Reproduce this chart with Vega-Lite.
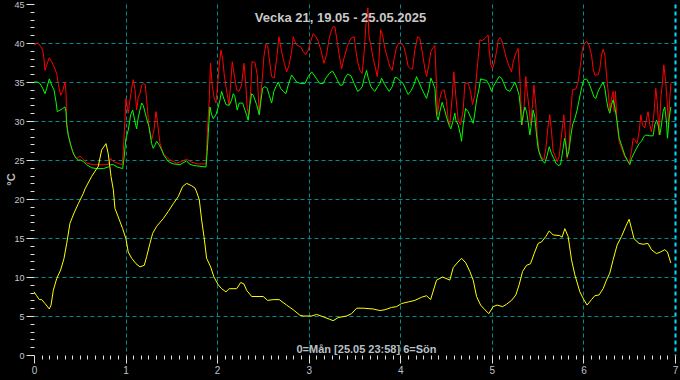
{
"$schema": "https://vega.github.io/schema/vega-lite/v6.json",
"width": 641, "height": 351,
"autosize": {"type": "none"},
"padding": {"left": 34, "top": 4, "right": 5, "bottom": 25},
"background": "#000000",
"config": {"view": {"stroke": null}, "axis": {"domain": false}},
"title": {"text": "Vecka 21, 19.05 - 25.05.2025", "anchor": "middle", "frame": "group", "dx": -14, "offset": -25, "fontSize": 13, "font": "Liberation Sans", "fontWeight": "bold", "color": "#c8c8c8"},
"datasets": {
"red": [{"d":0,"t":39.7},{"d":0.036,"t":40.0},{"d":0.066,"t":39.7},{"d":0.095,"t":39.1},{"d":0.109,"t":38.0},{"d":0.120,"t":36.5},{"d":0.139,"t":37.2},{"d":0.167,"t":38.1},{"d":0.193,"t":37.6},{"d":0.218,"t":37.0},{"d":0.248,"t":36.1},{"d":0.265,"t":34.8},{"d":0.291,"t":33.3},{"d":0.313,"t":33.8},{"d":0.338,"t":35.0},{"d":0.349,"t":33.8},{"d":0.357,"t":29.9},{"d":0.374,"t":28.2},{"d":0.393,"t":27.3},{"d":0.412,"t":26.5},{"d":0.429,"t":25.8},{"d":0.466,"t":25.2},{"d":0.502,"t":25.5},{"d":0.532,"t":25.2},{"d":0.575,"t":24.6},{"d":0.647,"t":24.4},{"d":0.757,"t":24.4},{"d":0.811,"t":24.4},{"d":0.837,"t":25.2},{"d":0.866,"t":24.8},{"d":0.909,"t":24.6},{"d":0.964,"t":24.4},{"d":0.975,"t":26.1},{"d":0.993,"t":30.1},{"d":1.004,"t":32.9},{"d":1.029,"t":31.0},{"d":1.048,"t":32.7},{"d":1.067,"t":34.2},{"d":1.084,"t":35.3},{"d":1.103,"t":34.0},{"d":1.121,"t":31.4},{"d":1.139,"t":33.1},{"d":1.157,"t":33.5},{"d":1.176,"t":34.6},{"d":1.193,"t":34.8},{"d":1.215,"t":34.7},{"d":1.230,"t":32.7},{"d":1.255,"t":29.3},{"d":1.285,"t":27.6},{"d":1.310,"t":28.8},{"d":1.332,"t":31.2},{"d":1.346,"t":30.1},{"d":1.376,"t":27.1},{"d":1.412,"t":25.8},{"d":1.485,"t":25.0},{"d":1.558,"t":24.6},{"d":1.612,"t":24.8},{"d":1.667,"t":25.1},{"d":1.722,"t":24.7},{"d":1.794,"t":24.5},{"d":1.878,"t":24.5},{"d":1.892,"t":28.4},{"d":1.905,"t":31.0},{"d":1.914,"t":32.7},{"d":1.927,"t":37.4},{"d":1.946,"t":34.6},{"d":1.968,"t":32.9},{"d":1.987,"t":32.3},{"d":2.005,"t":34.6},{"d":2.020,"t":36.8},{"d":2.041,"t":39.1},{"d":2.060,"t":38.0},{"d":2.078,"t":35.9},{"d":2.104,"t":33.8},{"d":2.129,"t":32.1},{"d":2.147,"t":34.6},{"d":2.165,"t":37.6},{"d":2.187,"t":35.9},{"d":2.213,"t":34.0},{"d":2.238,"t":33.8},{"d":2.267,"t":34.6},{"d":2.293,"t":37.4},{"d":2.311,"t":35.0},{"d":2.329,"t":31.6},{"d":2.347,"t":30.8},{"d":2.366,"t":33.8},{"d":2.380,"t":37.6},{"d":2.413,"t":37.5},{"d":2.438,"t":35.9},{"d":2.460,"t":30.8},{"d":2.478,"t":33.3},{"d":2.492,"t":35.3},{"d":2.511,"t":38.3},{"d":2.533,"t":39.9},{"d":2.551,"t":39.7},{"d":2.569,"t":38.0},{"d":2.595,"t":35.7},{"d":2.623,"t":35.5},{"d":2.650,"t":38.0},{"d":2.675,"t":40.8},{"d":2.704,"t":38.9},{"d":2.729,"t":37.6},{"d":2.759,"t":36.3},{"d":2.787,"t":37.2},{"d":2.813,"t":38.9},{"d":2.831,"t":40.8},{"d":2.849,"t":40.2},{"d":2.874,"t":39.7},{"d":2.912,"t":39.5},{"d":2.940,"t":38.9},{"d":2.966,"t":38.5},{"d":2.995,"t":39.1},{"d":3.021,"t":40.2},{"d":3.049,"t":41.2},{"d":3.079,"t":40.8},{"d":3.104,"t":40.2},{"d":3.133,"t":39.1},{"d":3.166,"t":37.4},{"d":3.195,"t":38.5},{"d":3.224,"t":40.6},{"d":3.250,"t":41.7},{"d":3.267,"t":42.1},{"d":3.286,"t":42.1},{"d":3.305,"t":40.6},{"d":3.333,"t":38.5},{"d":3.359,"t":36.7},{"d":3.384,"t":38.0},{"d":3.425,"t":39.7},{"d":3.461,"t":40.6},{"d":3.497,"t":40.8},{"d":3.512,"t":39.3},{"d":3.534,"t":37.6},{"d":3.559,"t":36.5},{"d":3.584,"t":36.1},{"d":3.606,"t":38.9},{"d":3.624,"t":42.3},{"d":3.646,"t":44.5},{"d":3.657,"t":41.0},{"d":3.679,"t":39.7},{"d":3.704,"t":38.0},{"d":3.730,"t":36.7},{"d":3.748,"t":35.7},{"d":3.766,"t":37.6},{"d":3.785,"t":41.7},{"d":3.807,"t":41.0},{"d":3.832,"t":39.3},{"d":3.861,"t":38.0},{"d":3.886,"t":37.0},{"d":3.912,"t":36.5},{"d":3.933,"t":38.0},{"d":3.960,"t":39.5},{"d":3.985,"t":40.0},{"d":4.014,"t":39.9},{"d":4.039,"t":39.5},{"d":4.061,"t":38.5},{"d":4.086,"t":37.0},{"d":4.112,"t":36.7},{"d":4.134,"t":36.7},{"d":4.159,"t":39.1},{"d":4.189,"t":40.8},{"d":4.214,"t":40.6},{"d":4.239,"t":38.9},{"d":4.269,"t":36.7},{"d":4.287,"t":35.7},{"d":4.312,"t":37.2},{"d":4.334,"t":38.9},{"d":4.359,"t":39.4},{"d":4.378,"t":39.7},{"d":4.396,"t":34.2},{"d":4.407,"t":30.8},{"d":4.425,"t":32.5},{"d":4.451,"t":33.8},{"d":4.479,"t":34.0},{"d":4.505,"t":32.5},{"d":4.523,"t":30.1},{"d":4.541,"t":29.5},{"d":4.567,"t":33.1},{"d":4.585,"t":36.3},{"d":4.607,"t":33.1},{"d":4.632,"t":30.1},{"d":4.658,"t":29.5},{"d":4.687,"t":31.4},{"d":4.705,"t":34.8},{"d":4.741,"t":34.9},{"d":4.767,"t":33.8},{"d":4.789,"t":32.1},{"d":4.814,"t":33.3},{"d":4.833,"t":35.9},{"d":4.850,"t":38.0},{"d":4.869,"t":40.4},{"d":4.894,"t":40.3},{"d":4.924,"t":40.6},{"d":4.942,"t":40.8},{"d":4.960,"t":41.0},{"d":4.971,"t":39.1},{"d":4.989,"t":37.2},{"d":5.008,"t":36.7},{"d":5.025,"t":37.4},{"d":5.051,"t":38.9},{"d":5.069,"t":40.4},{"d":5.087,"t":40.7},{"d":5.106,"t":40.4},{"d":5.131,"t":39.3},{"d":5.160,"t":38.0},{"d":5.189,"t":37.0},{"d":5.215,"t":36.3},{"d":5.233,"t":37.6},{"d":5.262,"t":38.7},{"d":5.287,"t":39.3},{"d":5.306,"t":35.5},{"d":5.317,"t":32.5},{"d":5.331,"t":29.5},{"d":5.349,"t":31.2},{"d":5.371,"t":35.7},{"d":5.385,"t":33.8},{"d":5.407,"t":31.6},{"d":5.422,"t":29.5},{"d":5.444,"t":32.1},{"d":5.459,"t":34.6},{"d":5.480,"t":32.1},{"d":5.495,"t":28.2},{"d":5.516,"t":26.1},{"d":5.542,"t":25.4},{"d":5.568,"t":25.0},{"d":5.590,"t":26.5},{"d":5.615,"t":29.5},{"d":5.633,"t":30.8},{"d":5.652,"t":28.6},{"d":5.669,"t":26.1},{"d":5.695,"t":25.4},{"d":5.713,"t":24.8},{"d":5.735,"t":25.4},{"d":5.761,"t":28.2},{"d":5.786,"t":30.8},{"d":5.808,"t":27.4},{"d":5.822,"t":25.2},{"d":5.844,"t":26.9},{"d":5.862,"t":31.2},{"d":5.881,"t":34.0},{"d":5.917,"t":34.1},{"d":5.942,"t":35.0},{"d":5.968,"t":37.2},{"d":5.990,"t":39.3},{"d":6.015,"t":40.0},{"d":6.040,"t":40.2},{"d":6.062,"t":39.7},{"d":6.088,"t":38.5},{"d":6.106,"t":36.7},{"d":6.124,"t":35.9},{"d":6.160,"t":35.9},{"d":6.179,"t":36.7},{"d":6.198,"t":38.5},{"d":6.215,"t":39.2},{"d":6.234,"t":38.5},{"d":6.252,"t":35.9},{"d":6.270,"t":33.8},{"d":6.288,"t":31.2},{"d":6.307,"t":32.9},{"d":6.324,"t":33.8},{"d":6.335,"t":31.2},{"d":6.350,"t":33.8},{"d":6.368,"t":29.5},{"d":6.390,"t":27.4},{"d":6.416,"t":26.5},{"d":6.452,"t":25.4},{"d":6.499,"t":24.6},{"d":6.525,"t":26.1},{"d":6.543,"t":27.8},{"d":6.561,"t":27.6},{"d":6.586,"t":27.1},{"d":6.608,"t":28.6},{"d":6.627,"t":30.8},{"d":6.645,"t":29.5},{"d":6.670,"t":29.1},{"d":6.689,"t":30.3},{"d":6.706,"t":31.2},{"d":6.725,"t":29.5},{"d":6.743,"t":28.6},{"d":6.769,"t":30.8},{"d":6.790,"t":34.2},{"d":6.805,"t":32.5},{"d":6.826,"t":28.2},{"d":6.845,"t":32.9},{"d":6.864,"t":35.0},{"d":6.878,"t":37.2},{"d":6.900,"t":34.8},{"d":6.914,"t":32.5},{"d":6.929,"t":29.5},{"d":6.943,"t":32.9},{"d":6.957,"t":35.0}],
"green": [{"d":0,"t":35},{"d":0.036,"t":35},{"d":0.066,"t":34.8},{"d":0.095,"t":34.2},{"d":0.120,"t":33.5},{"d":0.139,"t":34.2},{"d":0.167,"t":35.4},{"d":0.193,"t":34.6},{"d":0.218,"t":34},{"d":0.240,"t":32.5},{"d":0.254,"t":31.2},{"d":0.284,"t":31.4},{"d":0.313,"t":31.6},{"d":0.338,"t":31.8},{"d":0.349,"t":31.2},{"d":0.357,"t":29.5},{"d":0.374,"t":28.2},{"d":0.401,"t":26.9},{"d":0.422,"t":26.1},{"d":0.448,"t":25.4},{"d":0.484,"t":25},{"d":0.510,"t":25},{"d":0.538,"t":24.8},{"d":0.575,"t":24.4},{"d":0.630,"t":24},{"d":0.684,"t":23.9},{"d":0.757,"t":23.9},{"d":0.811,"t":24.1},{"d":0.837,"t":24.4},{"d":0.866,"t":24.4},{"d":0.909,"t":24.1},{"d":0.968,"t":23.9},{"d":0.983,"t":25.2},{"d":1.004,"t":27.8},{"d":1.029,"t":28.8},{"d":1.056,"t":30.8},{"d":1.078,"t":31.4},{"d":1.103,"t":29.9},{"d":1.121,"t":29},{"d":1.139,"t":30.5},{"d":1.157,"t":31.4},{"d":1.176,"t":32.3},{"d":1.193,"t":32},{"d":1.215,"t":31},{"d":1.230,"t":30.3},{"d":1.255,"t":29.3},{"d":1.285,"t":27.1},{"d":1.302,"t":26.5},{"d":1.321,"t":26.9},{"d":1.340,"t":27.4},{"d":1.368,"t":26.9},{"d":1.394,"t":26.3},{"d":1.419,"t":25.6},{"d":1.466,"t":24.8},{"d":1.521,"t":24.5},{"d":1.594,"t":24.4},{"d":1.638,"t":24.7},{"d":1.667,"t":24.9},{"d":1.695,"t":24.5},{"d":1.739,"t":24.3},{"d":1.812,"t":24.2},{"d":1.878,"t":24.1},{"d":1.892,"t":26.1},{"d":1.903,"t":28.4},{"d":1.921,"t":31.8},{"d":1.940,"t":30.8},{"d":1.957,"t":30.3},{"d":1.987,"t":30.8},{"d":2.012,"t":31.8},{"d":2.031,"t":32.7},{"d":2.049,"t":33.8},{"d":2.067,"t":33.1},{"d":2.096,"t":32.1},{"d":2.132,"t":32},{"d":2.158,"t":32.7},{"d":2.176,"t":33.5},{"d":2.194,"t":33.1},{"d":2.219,"t":31.4},{"d":2.241,"t":32.3},{"d":2.278,"t":32.3},{"d":2.303,"t":31.4},{"d":2.322,"t":30.8},{"d":2.339,"t":30.1},{"d":2.358,"t":32.1},{"d":2.377,"t":33.5},{"d":2.394,"t":33.3},{"d":2.413,"t":32.7},{"d":2.431,"t":32.1},{"d":2.460,"t":30.8},{"d":2.475,"t":32.3},{"d":2.497,"t":34.2},{"d":2.522,"t":34.4},{"d":2.547,"t":34.2},{"d":2.569,"t":33.3},{"d":2.595,"t":32.3},{"d":2.620,"t":33.8},{"d":2.642,"t":34.4},{"d":2.667,"t":35},{"d":2.693,"t":34.2},{"d":2.722,"t":33.8},{"d":2.751,"t":33.5},{"d":2.776,"t":34.6},{"d":2.813,"t":35.9},{"d":2.838,"t":35.5},{"d":2.868,"t":35},{"d":2.912,"t":34.8},{"d":2.959,"t":34.8},{"d":2.995,"t":35.7},{"d":3.032,"t":36.3},{"d":3.057,"t":35.9},{"d":3.086,"t":35.4},{"d":3.122,"t":34.8},{"d":3.158,"t":34.8},{"d":3.188,"t":35.5},{"d":3.224,"t":36.1},{"d":3.261,"t":36.4},{"d":3.286,"t":35.9},{"d":3.311,"t":35.3},{"d":3.341,"t":34.6},{"d":3.370,"t":34.6},{"d":3.395,"t":35.5},{"d":3.425,"t":36},{"d":3.461,"t":35.8},{"d":3.497,"t":34.8},{"d":3.534,"t":33.8},{"d":3.559,"t":34},{"d":3.584,"t":34.4},{"d":3.606,"t":35.5},{"d":3.632,"t":36.5},{"d":3.650,"t":35.5},{"d":3.679,"t":34.4},{"d":3.704,"t":34},{"d":3.723,"t":33.8},{"d":3.752,"t":34.4},{"d":3.777,"t":34.8},{"d":3.796,"t":35.5},{"d":3.824,"t":34.8},{"d":3.850,"t":34.3},{"d":3.879,"t":33.8},{"d":3.912,"t":34.4},{"d":3.941,"t":35.6},{"d":3.971,"t":35.5},{"d":4.003,"t":35.1},{"d":4.032,"t":34.8},{"d":4.061,"t":34},{"d":4.086,"t":33.4},{"d":4.112,"t":33.8},{"d":4.141,"t":34.4},{"d":4.159,"t":35},{"d":4.178,"t":35.7},{"d":4.203,"t":35},{"d":4.232,"t":34.2},{"d":4.261,"t":33.5},{"d":4.287,"t":32.9},{"d":4.312,"t":34},{"d":4.334,"t":35.5},{"d":4.359,"t":34.8},{"d":4.378,"t":34.2},{"d":4.396,"t":30.8},{"d":4.414,"t":30.1},{"d":4.432,"t":31.2},{"d":4.457,"t":32.4},{"d":4.479,"t":31.6},{"d":4.505,"t":30.5},{"d":4.531,"t":29.5},{"d":4.552,"t":29},{"d":4.578,"t":30.1},{"d":4.596,"t":31},{"d":4.607,"t":30.1},{"d":4.632,"t":29.5},{"d":4.658,"t":28.2},{"d":4.669,"t":27.4},{"d":4.687,"t":29.5},{"d":4.713,"t":31.6},{"d":4.741,"t":31.2},{"d":4.767,"t":30.5},{"d":4.796,"t":29.7},{"d":4.814,"t":31},{"d":4.833,"t":32.7},{"d":4.861,"t":34.2},{"d":4.877,"t":35.4},{"d":4.905,"t":35.3},{"d":4.942,"t":35.2},{"d":4.971,"t":34.6},{"d":4.997,"t":33.8},{"d":5.014,"t":34.4},{"d":5.044,"t":35},{"d":5.080,"t":35.7},{"d":5.106,"t":35.5},{"d":5.131,"t":34.8},{"d":5.160,"t":34},{"d":5.197,"t":33.8},{"d":5.226,"t":34.4},{"d":5.251,"t":35},{"d":5.276,"t":34.2},{"d":5.298,"t":33.3},{"d":5.313,"t":31.6},{"d":5.324,"t":29.5},{"d":5.342,"t":30.8},{"d":5.360,"t":31.8},{"d":5.379,"t":31.2},{"d":5.396,"t":29.9},{"d":5.415,"t":28.2},{"d":5.433,"t":29.7},{"d":5.451,"t":31.4},{"d":5.469,"t":30.5},{"d":5.488,"t":28.2},{"d":5.505,"t":26.5},{"d":5.532,"t":25.4},{"d":5.560,"t":24.8},{"d":5.579,"t":24.6},{"d":5.604,"t":25.6},{"d":5.626,"t":26.7},{"d":5.652,"t":25.8},{"d":5.677,"t":25.2},{"d":5.699,"t":24.6},{"d":5.724,"t":24.3},{"d":5.750,"t":24.4},{"d":5.761,"t":25.2},{"d":5.778,"t":26.5},{"d":5.794,"t":27.8},{"d":5.808,"t":26.9},{"d":5.822,"t":25.4},{"d":5.841,"t":26.1},{"d":5.859,"t":27.8},{"d":5.881,"t":29.5},{"d":5.906,"t":30.3},{"d":5.931,"t":31.4},{"d":5.953,"t":32.7},{"d":5.979,"t":34.2},{"d":6.004,"t":35.3},{"d":6.034,"t":35.4},{"d":6.062,"t":34.8},{"d":6.088,"t":34},{"d":6.114,"t":33.1},{"d":6.135,"t":32.9},{"d":6.160,"t":33.8},{"d":6.187,"t":34.4},{"d":6.215,"t":35},{"d":6.234,"t":34.2},{"d":6.252,"t":32.7},{"d":6.270,"t":31.6},{"d":6.288,"t":31},{"d":6.307,"t":32.1},{"d":6.324,"t":32.7},{"d":6.343,"t":31.8},{"d":6.368,"t":29.9},{"d":6.390,"t":27.8},{"d":6.416,"t":26.9},{"d":6.452,"t":25.6},{"d":6.488,"t":24.8},{"d":6.507,"t":24.4},{"d":6.525,"t":25.2},{"d":6.550,"t":25.8},{"d":6.580,"t":26.5},{"d":6.608,"t":27.1},{"d":6.634,"t":27.4},{"d":6.659,"t":28},{"d":6.681,"t":28.2},{"d":6.725,"t":28.1},{"d":6.761,"t":28.1},{"d":6.779,"t":29.5},{"d":6.798,"t":30.1},{"d":6.815,"t":29.5},{"d":6.834,"t":28.2},{"d":6.852,"t":29.5},{"d":6.870,"t":31.2},{"d":6.888,"t":31.8},{"d":6.907,"t":29.9},{"d":6.918,"t":27.8},{"d":6.936,"t":30.3},{"d":6.954,"t":31.8}],
"yellow": [{"d":0,"t":8.1},{"d":0.029,"t":7.6},{"d":0.058,"t":7.1},{"d":0.084,"t":7.1},{"d":0.120,"t":6.6},{"d":0.167,"t":5.9},{"d":0.186,"t":6.4},{"d":0.211,"t":8.3},{"d":0.248,"t":9.8},{"d":0.291,"t":10.9},{"d":0.328,"t":12.4},{"d":0.357,"t":14.3},{"d":0.393,"t":16.9},{"d":0.437,"t":18.2},{"d":0.484,"t":19.4},{"d":0.538,"t":20.7},{"d":0.557,"t":21.3},{"d":0.630,"t":22.9},{"d":0.702,"t":24.2},{"d":0.739,"t":26.3},{"d":0.786,"t":27.1},{"d":0.811,"t":25.8},{"d":0.841,"t":22.9},{"d":0.866,"t":21.2},{"d":0.884,"t":18.8},{"d":0.920,"t":17.7},{"d":0.968,"t":16.2},{"d":1.004,"t":14.9},{"d":1.029,"t":13.2},{"d":1.067,"t":12.4},{"d":1.114,"t":11.7},{"d":1.157,"t":11.3},{"d":1.204,"t":11.5},{"d":1.230,"t":12.6},{"d":1.266,"t":14.3},{"d":1.296,"t":15.6},{"d":1.340,"t":16.5},{"d":1.412,"t":17.5},{"d":1.466,"t":18.4},{"d":1.521,"t":19.4},{"d":1.575,"t":20.3},{"d":1.623,"t":21.6},{"d":1.667,"t":22},{"d":1.722,"t":21.7},{"d":1.758,"t":21.4},{"d":1.776,"t":20.9},{"d":1.805,"t":19.9},{"d":1.831,"t":17.3},{"d":1.856,"t":15.2},{"d":1.885,"t":12.4},{"d":1.929,"t":11.3},{"d":1.965,"t":10},{"d":2.012,"t":9},{"d":2.049,"t":8.5},{"d":2.096,"t":8.1},{"d":2.132,"t":8.5},{"d":2.213,"t":8.5},{"d":2.257,"t":9.3},{"d":2.293,"t":9.1},{"d":2.322,"t":8.3},{"d":2.377,"t":7.5},{"d":2.503,"t":7.5},{"d":2.551,"t":7},{"d":2.612,"t":7.1},{"d":2.678,"t":7.1},{"d":2.759,"t":6.4},{"d":2.831,"t":5.8},{"d":2.904,"t":5.1},{"d":2.940,"t":5},{"d":3.032,"t":5},{"d":3.086,"t":5.2},{"d":3.158,"t":4.9},{"d":3.224,"t":4.6},{"d":3.267,"t":4.4},{"d":3.322,"t":4.8},{"d":3.414,"t":5},{"d":3.468,"t":5.3},{"d":3.523,"t":6},{"d":3.595,"t":6},{"d":3.704,"t":5.9},{"d":3.777,"t":5.7},{"d":3.832,"t":5.8},{"d":3.905,"t":6.1},{"d":3.960,"t":6.2},{"d":4.014,"t":6.6},{"d":4.086,"t":6.8},{"d":4.159,"t":7},{"d":4.232,"t":7.4},{"d":4.287,"t":7.6},{"d":4.331,"t":7.1},{"d":4.396,"t":9.6},{"d":4.462,"t":10},{"d":4.541,"t":9.6},{"d":4.578,"t":11.2},{"d":4.621,"t":11.8},{"d":4.669,"t":12.4},{"d":4.716,"t":11.8},{"d":4.760,"t":10.7},{"d":4.796,"t":9.6},{"d":4.833,"t":7.5},{"d":4.877,"t":6.4},{"d":4.924,"t":5.8},{"d":4.967,"t":5.3},{"d":5.014,"t":6.2},{"d":5.058,"t":6.4},{"d":5.117,"t":6.2},{"d":5.160,"t":6.5},{"d":5.215,"t":7},{"d":5.262,"t":7.7},{"d":5.298,"t":9},{"d":5.335,"t":10.7},{"d":5.379,"t":11.5},{"d":5.422,"t":11.7},{"d":5.462,"t":13},{"d":5.505,"t":14.3},{"d":5.542,"t":14.5},{"d":5.590,"t":15.2},{"d":5.626,"t":15.9},{"d":5.669,"t":15.4},{"d":5.742,"t":15.3},{"d":5.767,"t":15.1},{"d":5.797,"t":16.2},{"d":5.833,"t":15.2},{"d":5.870,"t":12.2},{"d":5.906,"t":10.3},{"d":5.961,"t":8.1},{"d":6.004,"t":7.1},{"d":6.040,"t":6.4},{"d":6.088,"t":7.1},{"d":6.124,"t":7.6},{"d":6.171,"t":7.7},{"d":6.215,"t":8.5},{"d":6.252,"t":9.6},{"d":6.288,"t":10.5},{"d":6.324,"t":12.2},{"d":6.368,"t":14.1},{"d":6.416,"t":15.2},{"d":6.463,"t":16.5},{"d":6.499,"t":17.4},{"d":6.525,"t":16.2},{"d":6.553,"t":14.9},{"d":6.608,"t":14.3},{"d":6.652,"t":14.2},{"d":6.706,"t":14.3},{"d":6.743,"t":13.5},{"d":6.798,"t":13},{"d":6.841,"t":13.2},{"d":6.888,"t":13.5},{"d":6.918,"t":13.2},{"d":6.954,"t":11.8}]
},
"encoding": {
  "x": {"field": "d", "type": "quantitative", "scale": {"domain": [0, 7], "nice": false, "zero": false},
    "axis": {
      "values": [0,0.0833,0.1667,0.25,0.3333,0.4167,0.5,0.5833,0.6667,0.75,0.8333,0.9167,1,1.0833,1.1667,1.25,1.3333,1.4167,1.5,1.5833,1.6667,1.75,1.8333,1.9167,2,2.0833,2.1667,2.25,2.3333,2.4167,2.5,2.5833,2.6667,2.75,2.8333,2.9167,3,3.0833,3.1667,3.25,3.3333,3.4167,3.5,3.5833,3.6667,3.75,3.8333,3.9167,4,4.0833,4.1667,4.25,4.3333,4.4167,4.5,4.5833,4.6667,4.75,4.8333,4.9167,5,5.0833,5.1667,5.25,5.3333,5.4167,5.5,5.5833,5.6667,5.75,5.8333,5.9167,6,6.0833,6.1667,6.25,6.3333,6.4167,6.5,6.5833,6.6667,6.75,6.8333,6.9167,7],
      "labelExpr": "datum.value % 1 === 0 ? format(datum.value, 'd') : ''",
      "labelOverlap": false, "labelBound": false, "labelFlush": false,
      "labelFont": "Liberation Sans", "labelFontSize": 10, "labelColor": "#b8c4d0", "labelPadding": 2,
      "tickColor": "#e0e0e0",
      "tickSize": {"condition": {"test": "datum.value % 1 === 0", "value": 8}, "value": 4},
      "grid": true,
      "gridColor": {"condition": {"test": "datum.value === 7", "value": "#00e0ff"}, "value": "#008c8c"},
      "gridWidth": {"condition": {"test": "datum.value === 7", "value": 2}, "value": 1},
      "gridOpacity": {"condition": {"test": "datum.value % 1 === 0 && datum.value > 0", "value": 1}, "value": 0},
      "gridDash": [4, 3],
      "title": "0=Mån [25.05 23:58] 6=Sön", "titleX": 332, "titleY": -6, "titleBaseline": "middle", "titleAlign": "center",
      "titleFont": "Liberation Sans", "titleFontSize": 11, "titleFontWeight": "bold", "titleColor": "#b8c0c8"
    }},
  "y": {"field": "t", "type": "quantitative", "scale": {"domain": [0, 45], "nice": false},
    "axis": {
      "values": [0,1,2,3,4,5,6,7,8,9,10,11,12,13,14,15,16,17,18,19,20,21,22,23,24,25,26,27,28,29,30,31,32,33,34,35,36,37,38,39,40,41,42,43,44,45],
      "labelExpr": "datum.value % 5 === 0 ? format(datum.value, 'd') : ''",
      "labelOverlap": false, "labelBound": false, "labelFlush": false,
      "labelFont": "Liberation Sans", "labelFontSize": 9, "labelColor": "#c0c8d0", "labelPadding": 2,
      "tickColor": "#e0e0e0",
      "tickSize": {"condition": {"test": "datum.value % 5 === 0", "value": 8}, "value": 4},
      "grid": true, "gridColor": "#008c8c", "gridDash": [4, 3],
      "gridOpacity": {"condition": {"test": "datum.value % 5 === 0 && datum.value > 0 && datum.value < 45", "value": 1}, "value": 0},
      "title": "°C", "titleX": -23, "titleY": 175, "titleAngle": -90, "titleBaseline": "middle", "titleAlign": "center",
      "titleFont": "Liberation Sans", "titleFontSize": 11, "titleFontWeight": "bold", "titleColor": "#c0c0c0"
    }}
},
"layer": [
  {"data": {"name": "red"}, "mark": {"type": "line", "color": "#ff0000", "strokeWidth": 1}},
  {"data": {"name": "green"}, "mark": {"type": "line", "color": "#00ff00", "strokeWidth": 1}},
  {"data": {"name": "yellow"}, "mark": {"type": "line", "color": "#ffff00", "strokeWidth": 1}}
]
}
